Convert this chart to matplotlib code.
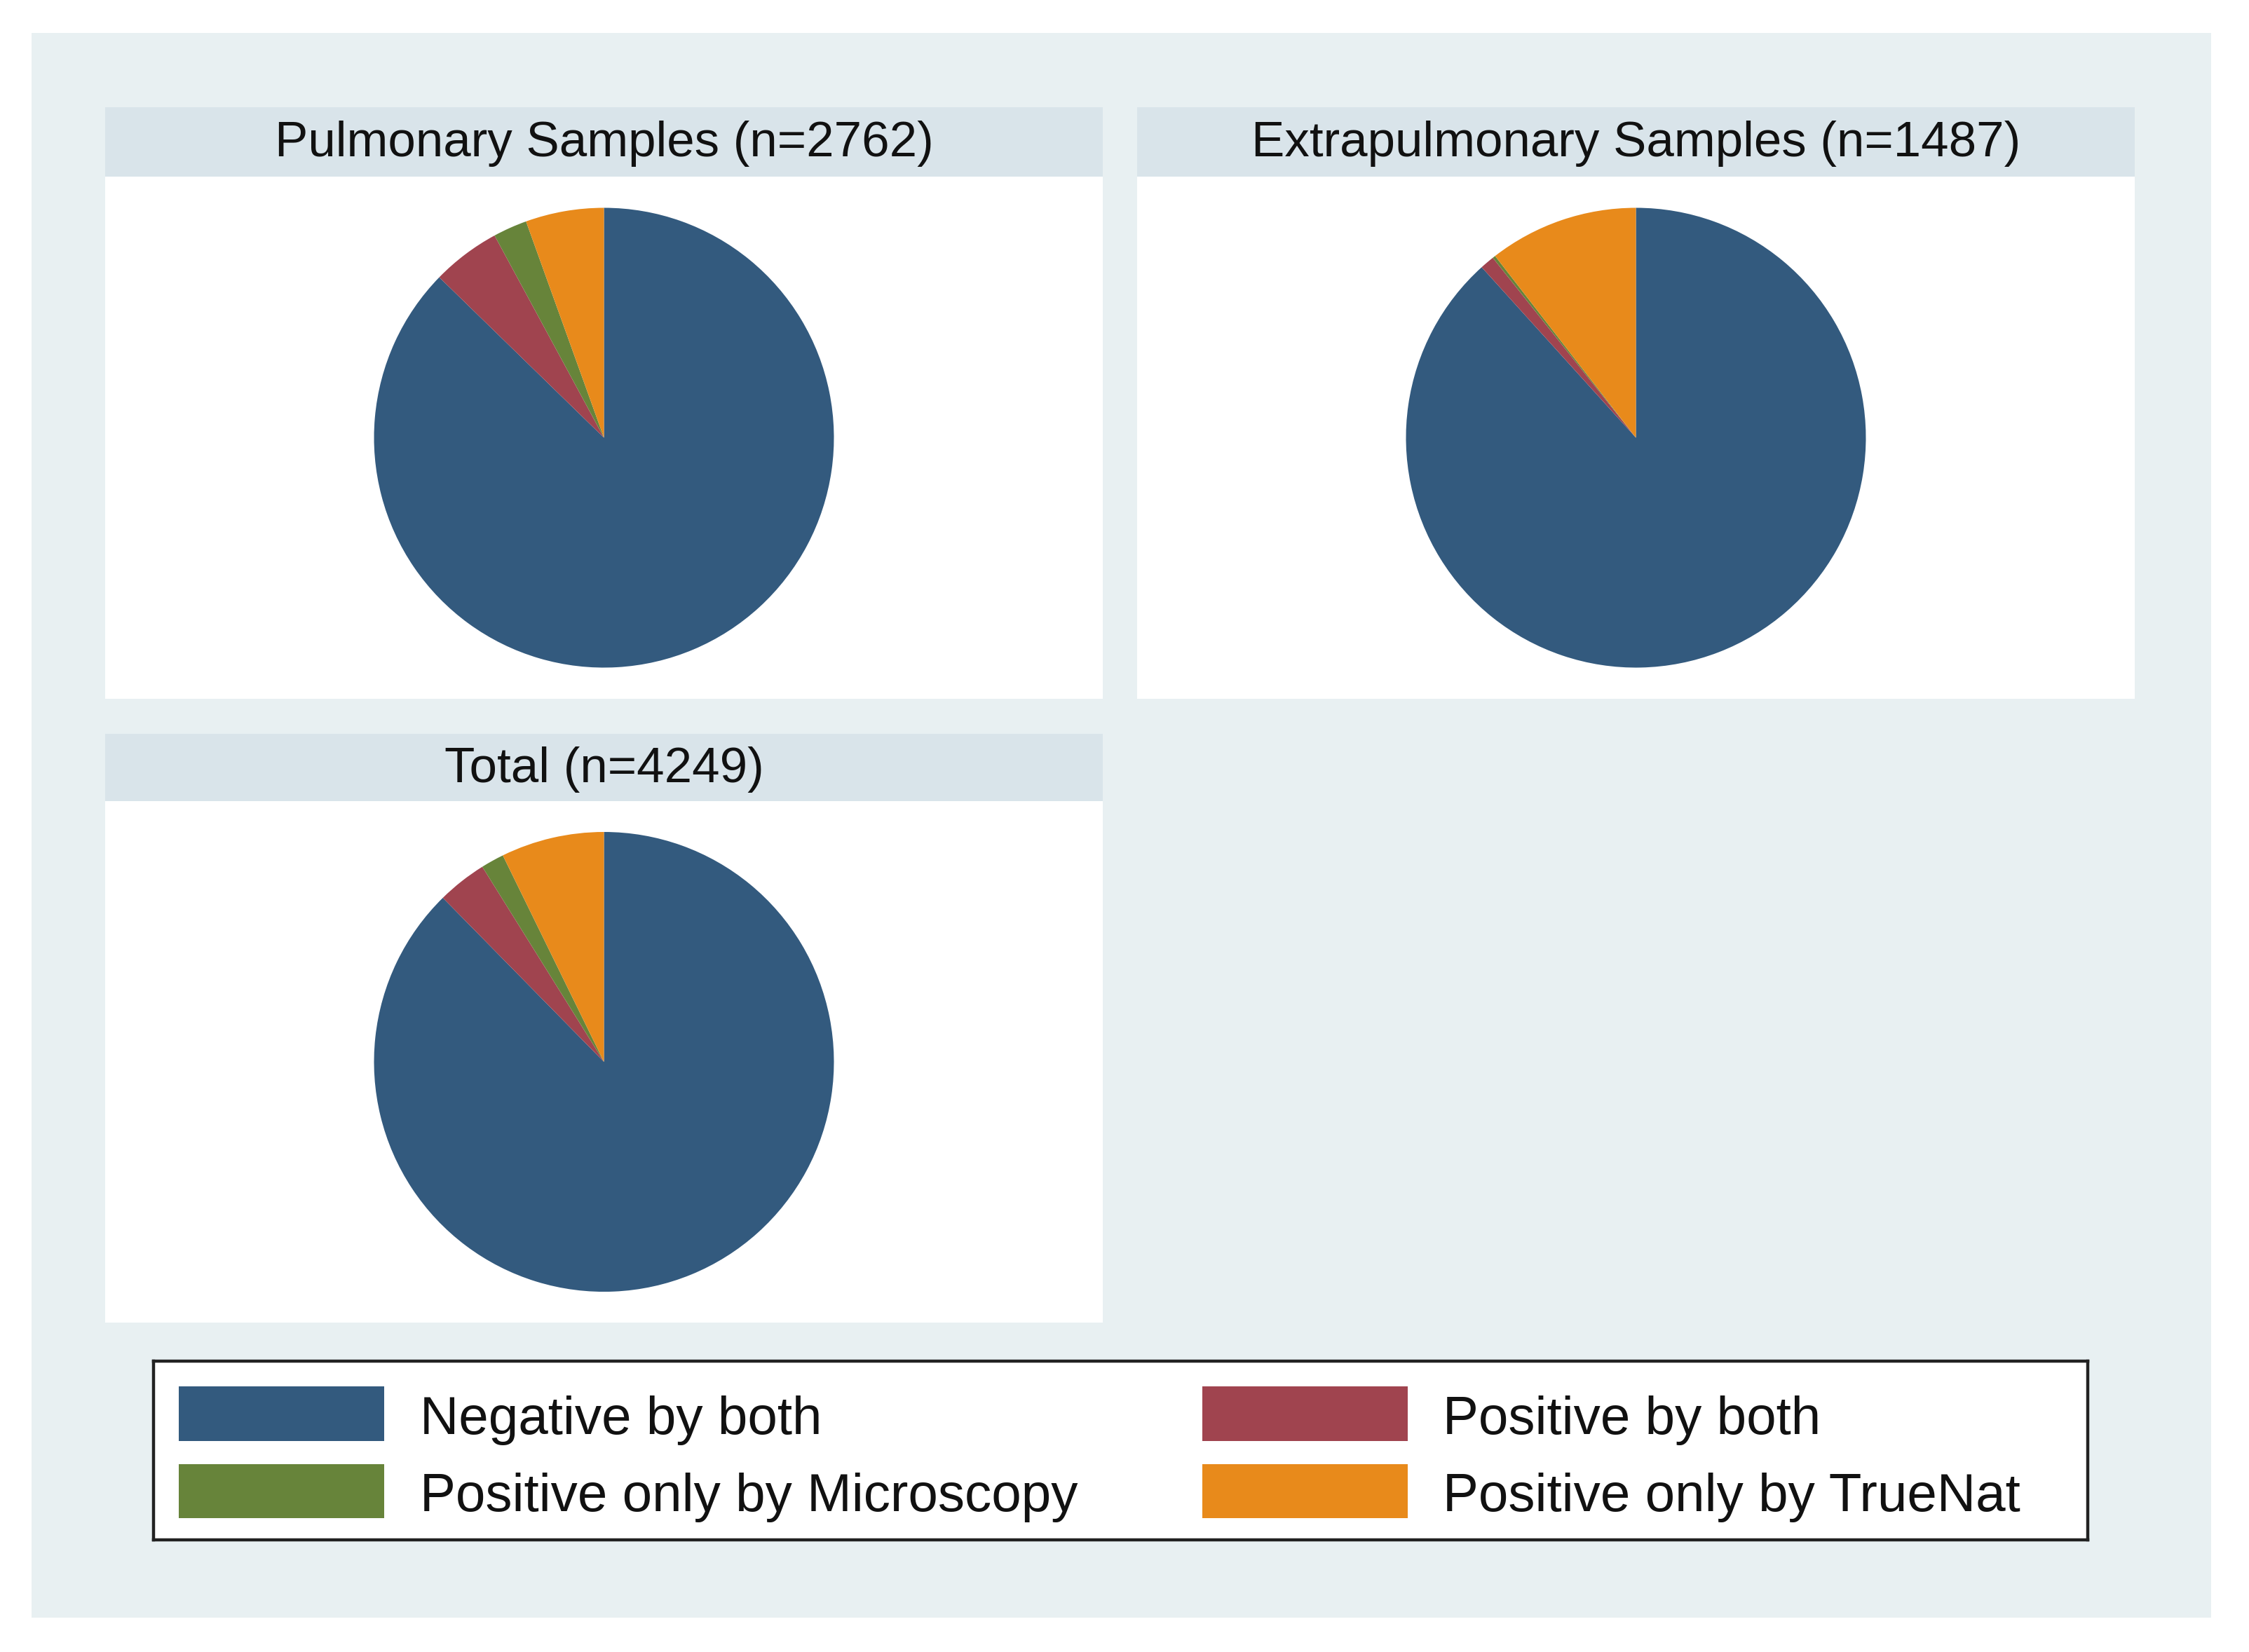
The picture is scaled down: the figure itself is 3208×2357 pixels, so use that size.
import matplotlib
matplotlib.use("Agg")
import matplotlib.pyplot as plt
from matplotlib.patches import Rectangle

plt.rcParams['font.family'] = ['Liberation Sans', 'DejaVu Sans']

# data (sample counts)
categories = ["Negative by both", "Positive by both",
              "Positive only by Microscopy", "Positive only by TrueNat"]
pulmonary = [2411, 133, 66, 152]
extrapulmonary = [1313, 15, 3, 156]
total = [3724, 148, 69, 308]
titles = ["Pulmonary Samples (n=2762)", "Extrapulmonary Samples (n=1487)", "Total (n=4249)"]

colors = ["#335a7e", "#a0444f", "#67843a", "#e88a1b"]
bg = "#e8f0f2"
strip = "#d9e4ea"

W, H = 3208, 2357
fig = plt.figure(figsize=(W / 200, H / 200), dpi=200)
fig.patch.set_facecolor("white")

def px_axes(x0, y0, x1, y1):
    # pixel box (top-left origin) -> figure axes
    return fig.add_axes([x0 / W, 1 - y1 / H, (x1 - x0) / W, (y1 - y0) / H])

# outer light background
back = px_axes(45, 47, 3154, 2308)
back.set_facecolor(bg)
back.set_xticks([]); back.set_yticks([])
for s in back.spines.values():
    s.set_visible(False)

panels = [(150, 1573, 153, 252, 997),
          (1622, 3045, 153, 252, 997),
          (150, 1573, 1047, 1143, 1887)]
datasets = [pulmonary, extrapulmonary, total]

for (x0, x1, st, sb, wb), vals, title in zip(panels, datasets, titles):
    sax = px_axes(x0, st, x1, sb)
    sax.set_facecolor(strip)
    sax.set_xticks([]); sax.set_yticks([])
    for s in sax.spines.values():
        s.set_visible(False)
    sax.text(0.5, 0.47, title, ha="center", va="center", fontsize=25.5, color="#111111")

    wax = px_axes(x0, sb, x1, wb)
    wax.set_facecolor("white")
    wax.set_xticks([]); wax.set_yticks([])
    for s in wax.spines.values():
        s.set_visible(False)

    cx = (x0 + x1) / 2
    cy = (sb + wb) / 2
    r = 328
    pax = px_axes(cx - r, cy - r, cx + r, cy + r)
    pax.pie(vals, colors=colors, startangle=90, counterclock=False, radius=1,
            wedgeprops=dict(linewidth=0))
    pax.set_xlim(-1, 1); pax.set_ylim(-1, 1)
    pax.set_aspect("equal")
    pax.axis("off")

# legend
lax = px_axes(219, 1942, 2978, 2197)
lax.set_xlim(219, 2978)
lax.set_ylim(2197, 1942)
lax.set_facecolor("white")
lax.set_xticks([]); lax.set_yticks([])
for s in lax.spines.values():
    s.set_linewidth(1.6)
    s.set_color("#222222")

swatch_x = [255, 1715]
text_x = [599, 2058]
rows_y = [(1978, 2056), (2089, 2166)]
for i, (lab, c) in enumerate(zip(categories, colors)):
    col = i % 2
    row = i // 2
    y0, y1 = rows_y[row]
    lax.add_patch(Rectangle((swatch_x[col], y0), 293, y1 - y0, facecolor=c, edgecolor="none"))
    lax.text(text_x[col], (y0 + y1) / 2 + 9, lab, ha="left", va="center",
             fontsize=27.5, color="#111111")

fig.savefig("out.png", dpi=200, facecolor="white")
